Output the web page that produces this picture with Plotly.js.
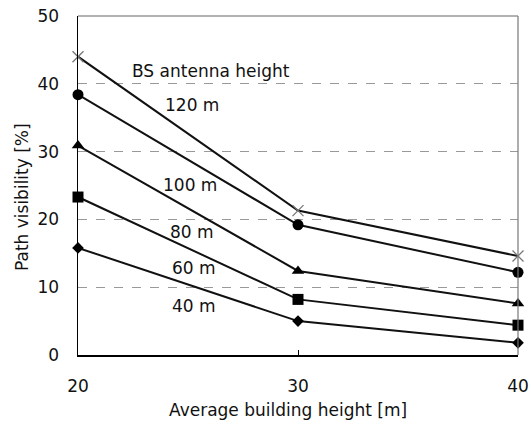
<!DOCTYPE html>
<html>
<head>
<meta charset="utf-8">
<script src="https://cdn.plot.ly/plotly-3.0.1.min.js"></script>
<style>html,body{margin:0;padding:0;background:#fff}#chart{width:531px;height:428px}</style>
</head>
<body>
<div id="chart"></div>
<script>
const buildingHeight = [20, 30, 40];
const vis120 = [44.0, 21.3, 14.6];
const vis100 = [38.4, 19.2, 12.2];
const vis80 = [30.9, 12.4, 7.6];
const vis60 = [23.3, 8.2, 4.4];
const vis40 = [15.8, 5.0, 1.8];
const seriesLabels = ["120 m", "100 m", "80 m", "60 m", "40 m"];
const labelX = [25.2, 25.1, 25.2, 25.25, 25.25];
const labelY = [36.9, 25.1, 18.2, 12.8, 7.2];
const yTicks = [0, 10, 20, 30, 40, 50];
const xTicks = [20, 30, 40];

const FONT = "DejaVu Sans, Verdana, sans-serif";
const FS = 17;
function line(y, sym, size, mcol, mline) {
  return {
    x: buildingHeight, y: y, type: "scatter", mode: "lines+markers",
    line: {color: "#111", width: 2},
    marker: {symbol: sym, size: size, color: mcol, line: mline || {width: 0}},
    cliponaxis: false, showlegend: false, hoverinfo: "skip"
  };
}
const data = [
  line(vis120, "x-thin", 11, "#777", {color: "#777", width: 1.3}),
  line(vis100, "circle", 11, "#000"),
  line(vis80, "triangle-up", 11, "#000"),
  line(vis60, "square", 11, "#000"),
  line(vis40, "diamond", 9, "#000")
];
const annotations = seriesLabels.map((t, i) => ({
  x: labelX[i], y: labelY[i], xref: "x", yref: "y", text: t, showarrow: false,
  font: {family: FONT, size: FS, color: "#111"}
}));
annotations.push({x: 26.05, y: 41.9, xref: "x", yref: "y", text: "BS antenna height", showarrow: false,
  font: {family: FONT, size: FS, color: "#111"}});
annotations.push({x: (288 - 78) / 440, y: -(410 - 355) / 339, xref: "paper", yref: "paper", text: "Average building height [m]",
  showarrow: false, yanchor: "middle", font: {family: FONT, size: FS, color: "#111"}});
annotations.push({x: (22 - 78) / 440, y: (355 - 197) / 339, xref: "paper", yref: "paper", text: "Path visibility [%]",
  showarrow: false, textangle: -90, xanchor: "center", yanchor: "middle", font: {family: FONT, size: FS, color: "#111"}});

const layout = {
  width: 531, height: 428,
  margin: {l: 78, r: 13, t: 16, b: 73},
  paper_bgcolor: "#fff", plot_bgcolor: "#fff",
  font: {family: FONT, size: FS, color: "#111"},
  xaxis: {
    range: [20, 40], tickvals: xTicks, ticktext: xTicks.map(String),
    showgrid: false, zeroline: false, showline: true, linecolor: "#000", linewidth: 1.5,
    ticks: "inside", ticklen: 5, tickcolor: "#000", ticklabelstandoff: 15,
    tickfont: {family: FONT, size: FS, color: "#111"}
  },
  yaxis: {
    range: [0, 50], tickvals: yTicks, ticktext: yTicks.map(String),
    showgrid: true, gridcolor: "#999", griddash: "dash", gridwidth: 1,
    zeroline: false, showline: true, linecolor: "#000", linewidth: 1.5,
    ticks: "", ticklabelstandoff: 14,
    tickfont: {family: FONT, size: FS, color: "#111"}
  },
  shapes: [
    {type: "line", xref: "paper", yref: "paper", x0: 0, x1: 1, y0: 1, y1: 1, line: {color: "#666", width: 1.2}},
    {type: "line", xref: "paper", yref: "paper", x0: 1, x1: 1, y0: 0, y1: 1, line: {color: "#777", width: 1.2}}
  ],
  annotations: annotations,
  showlegend: false
};
Plotly.newPlot("chart", data, layout, {staticPlot: true, displayModeBar: false});
</script>
</body>
</html>
